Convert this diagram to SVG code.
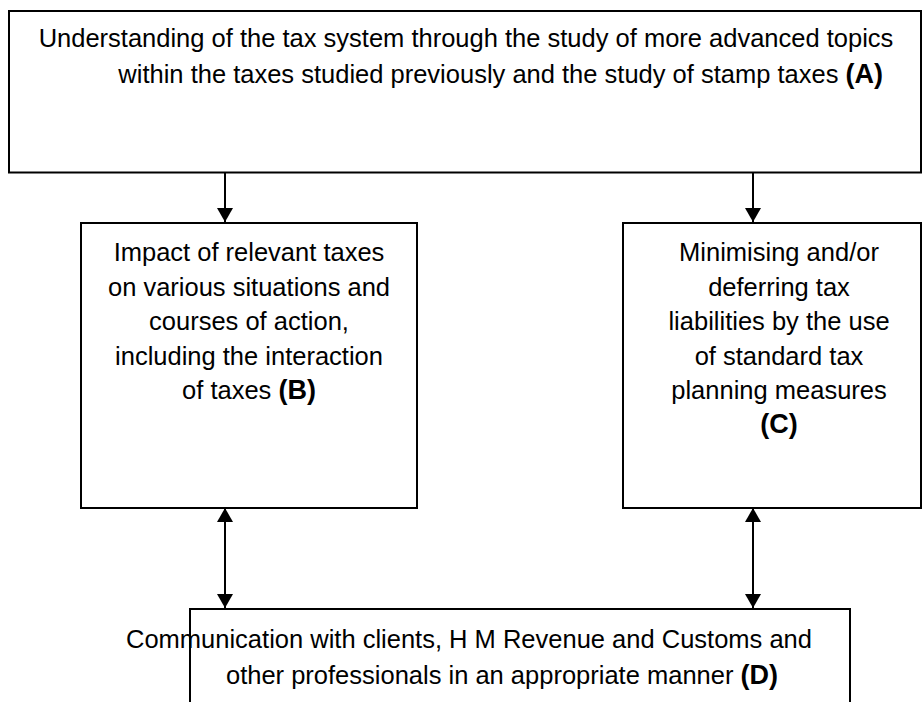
<svg xmlns="http://www.w3.org/2000/svg" width="923" height="702" viewBox="0 0 923 702">
<defs>
<style>
.box{fill:#fff;stroke:#000;stroke-width:2}
.t{font-family:"Liberation Sans",Arial,sans-serif;font-size:25.5px;fill:#000}
.c{text-anchor:middle}
.lab{font-weight:bold;font-size:27px}
.con{stroke:#000;stroke-width:2;fill:none}
</style>
<marker id="ah" viewBox="0 0 14 16" refX="14" refY="8" markerWidth="14" markerHeight="16" markerUnits="userSpaceOnUse" orient="auto-start-reverse">
<path d="M0,0 L14,8 L0,16 z" fill="#000"/>
</marker>
</defs>
<rect width="923" height="702" fill="#fff"/>
<g id="nodeA">
<rect class="box" x="9" y="11" width="912" height="161.5"/>
<text class="t c" x="466" y="47">Understanding of the tax system through the study of more advanced topics</text>
<text class="t" x="883" y="83" text-anchor="end">within the taxes studied previously and the study of stamp taxes <tspan class="lab">(A)</tspan></text>
</g>
<g id="nodeB">
<rect class="box" x="81" y="223" width="336" height="285"/>
<text class="t c" x="249" y="261">Impact of relevant taxes</text>
<text class="t c" x="249" y="296">on various situations and</text>
<text class="t c" x="249" y="330">courses of action,</text>
<text class="t c" x="249" y="365">including the interaction</text>
<text class="t c" x="249" y="399">of taxes <tspan class="lab">(B)</tspan></text>
</g>
<g id="nodeC">
<rect class="box" x="623" y="223" width="298" height="285"/>
<text class="t c" x="779" y="261">Minimising and/or</text>
<text class="t c" x="779" y="296">deferring tax</text>
<text class="t c" x="779" y="330">liabilities by the use</text>
<text class="t c" x="779" y="365">of standard tax</text>
<text class="t c" x="779" y="399">planning measures</text>
<text class="t c lab" x="779" y="433">(C)</text>
</g>
<g id="nodeD">
<rect class="box" x="190" y="609" width="660" height="120"/>
<text class="t c" x="469" y="648">Communication with clients, H M Revenue and Customs and</text>
<text class="t" x="778" y="684" text-anchor="end">other professionals in an appropriate manner <tspan class="lab">(D)</tspan></text>
</g>
<g id="connectors">
<line class="con" x1="225" y1="172.5" x2="225" y2="222" marker-end="url(#ah)"/>
<line class="con" x1="753" y1="172.5" x2="753" y2="222" marker-end="url(#ah)"/>
<line class="con" x1="225" y1="508" x2="225" y2="608" marker-start="url(#ah)" marker-end="url(#ah)"/>
<line class="con" x1="753" y1="508" x2="753" y2="608" marker-start="url(#ah)" marker-end="url(#ah)"/>
</g>
</svg>
